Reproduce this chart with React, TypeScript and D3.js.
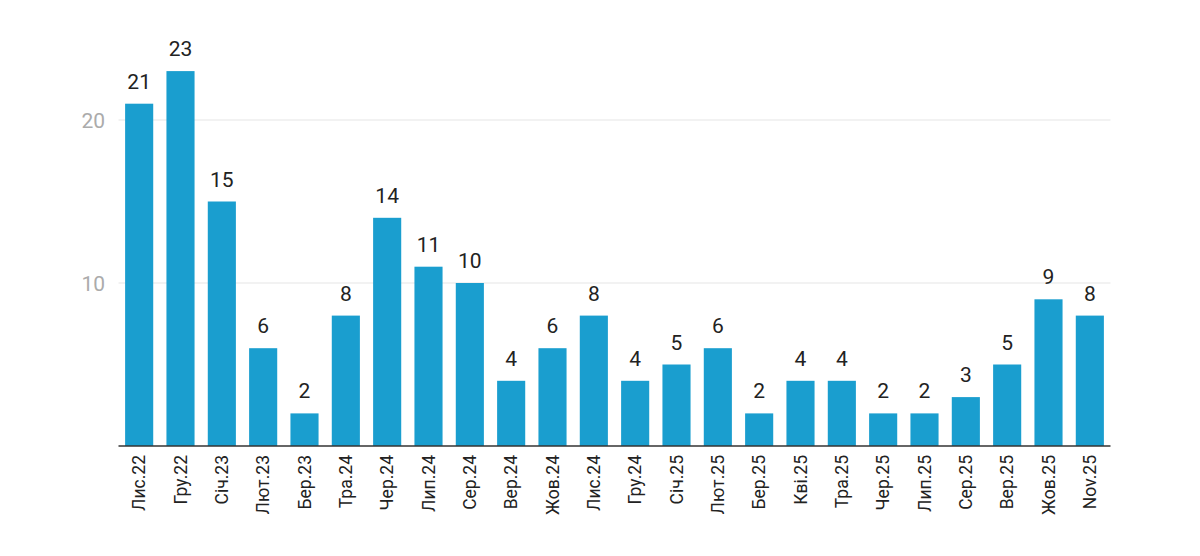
import React from 'react';
import * as d3 from 'd3';

const months = [
  'Лис.22', 'Гру.22', 'Січ.23', 'Лют.23', 'Бер.23', 'Тра.24', 'Чер.24', 'Лип.24',
  'Сер.24', 'Вер.24', 'Жов.24', 'Лис.24', 'Гру.24', 'Січ.25', 'Лют.25', 'Бер.25',
  'Кві.25', 'Тра.25', 'Чер.25', 'Лип.25', 'Сер.25', 'Вер.25', 'Жов.25', 'Nov.25',
];
const counts = [21, 23, 15, 6, 2, 8, 14, 11, 10, 4, 6, 8, 4, 5, 6, 2, 4, 4, 2, 2, 3, 5, 9, 8];
const yTicks = [10, 20];

const width = 1200;
const height = 556;
const left = 118.5;
const right = 1110.5;
const baseY = 446;

const App: React.FC = () => {
  const x = d3.scaleBand<string>().domain(months).range([left, right]).paddingInner(0.32).paddingOuter(0.16);
  const y = d3.scaleLinear().domain([0, 20]).range([baseY, 120]);
  const font = 'Roboto, "Noto Sans", sans-serif';

  return (
    <svg width={width} height={height} style={{ position: 'absolute', top: 0, left: 0, background: '#fff' }}>
      {/* grid */}
      {yTicks.map(t => (
        <g key={t}>
          <line x1={left} x2={right} y1={y(t)} y2={y(t)} stroke="#e6e6e6" strokeWidth={1.2} />
          <text x={105} y={y(t)} dy="0.36em" textAnchor="end" fontSize={21} fill="#ababab" fontFamily={font}>{t}</text>
        </g>
      ))}

      {/* bars */}
      {counts.map((v, i) => {
        const m = months[i];
        const bx = x(m)!;
        return (
          <g key={m}>
            <rect x={bx} y={y(v)} width={x.bandwidth()} height={baseY - y(v)} fill="#1a9ecf" />
            <text x={bx + x.bandwidth() / 2} y={y(v) - 15} textAnchor="middle" fontSize={21} fill="#222" fontFamily={font}>{v}</text>
          </g>
        );
      })}

      {/* axis */}
      <line x1={left} x2={right} y1={baseY} y2={baseY} stroke="#333" strokeWidth={1.5} />
      {months.map(m => {
        const cx = x(m)! + x.bandwidth() / 2;
        return (
          <text key={m} transform={`translate(${cx + 6},455) rotate(-90)`} textAnchor="end" fontSize={17.5} fill="#222" fontFamily={font}>{m}</text>
        );
      })}
    </svg>
  );
};

export default App;
